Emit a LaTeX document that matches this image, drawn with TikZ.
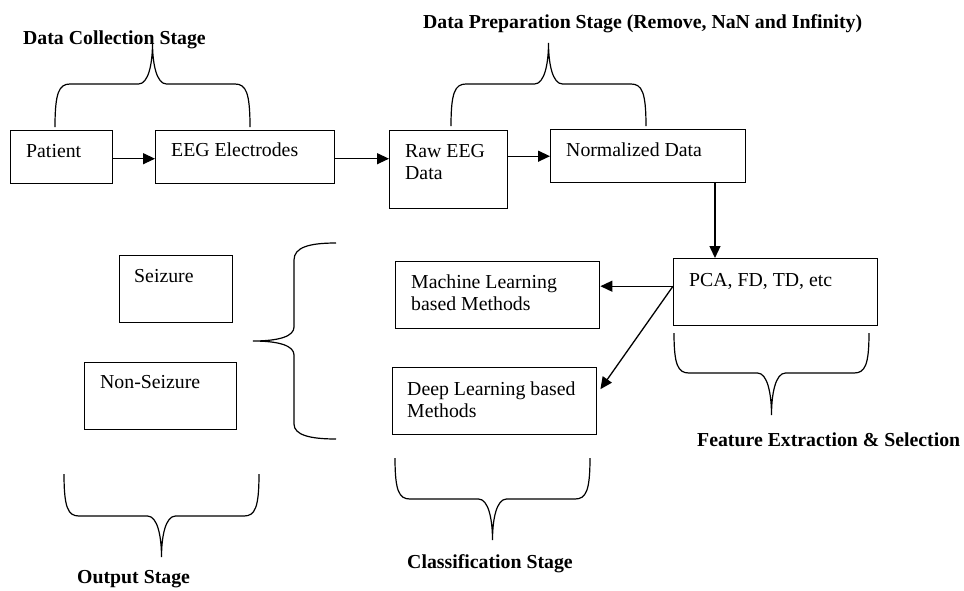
\documentclass[tikz,border=0pt]{standalone}
\usepackage{fontspec}
\setmainfont{Liberation Serif}
\usetikzlibrary{arrows.meta,calc}
\tikzset{
  box/.style={draw, line width=1.4pt, anchor=north west, inner sep=0pt},
  txt/.style={anchor=north west, inner sep=0pt, align=left, font=\fontsize{19.8}{22.5}\selectfont},
  ttl/.style={anchor=base west, inner sep=0pt, font=\fontsize{19.8}{22.5}\selectfont\bfseries},
  arr/.style={line width=1.3pt, -{Triangle[length=12pt,width=11pt]}},
  brc/.style={line width=1.2pt},
}
% horizontal brace: xa, xb, y of ends, y of flat part, y of tip
\newcommand\hbr[5]{%
  \draw[brc] (#1,#3) .. controls (#1,{#3+0.8*(#4-#3)}) and ({#1+4},#4) .. ({#1+15},#4)
    -- ({(#1+#2)/2-14},#4) .. controls ({(#1+#2)/2-4},#4) and ({(#1+#2)/2},{#4+0.5*(#5-#4)}) .. ({(#1+#2)/2},#5)
    .. controls ({(#1+#2)/2},{#4+0.5*(#5-#4)}) and ({(#1+#2)/2+4},#4) .. ({(#1+#2)/2+14},#4)
    -- ({#2-15},#4) .. controls ({#2-4},#4) and (#2,{#3+0.8*(#4-#3)}) .. (#2,#3);}
\begin{document}
\begin{tikzpicture}[x=1pt,y=-1pt]
\useasboundingbox (0,0) rectangle (964,590);
% boxes
\node[box, minimum width=102pt, minimum height=53pt] (patient) at (10,130) {};
\node[box, minimum width=179pt, minimum height=53pt] (eeg) at (155,130) {};
\node[box, minimum width=118pt, minimum height=78pt] (raw) at (389,130) {};
\node[box, minimum width=195pt, minimum height=53pt] (norm) at (550,129) {};
\node[box, minimum width=204pt, minimum height=67pt] (pca) at (673,258) {};
\node[box, minimum width=204pt, minimum height=67pt] (ml) at (395,261) {};
\node[box, minimum width=204pt, minimum height=67pt] (dl) at (392,367) {};
\node[box, minimum width=113pt, minimum height=67pt] (seiz) at (119,255) {};
\node[box, minimum width=152pt, minimum height=67pt] (nons) at (84,362) {};
% box texts
\node[txt] (patient-t) at ([shift={(16pt,-11.25pt)}]patient.north west) {\strut Patient};
\node[txt] (eeg-t) at ([shift={(16pt,-10.25pt)}]eeg.north west) {\strut EEG Electrodes};
\node[txt] (raw-t) at ([shift={(16pt,-11.25pt)}]raw.north west) {\strut Raw EEG\\Data};
\node[txt] (norm-t) at ([shift={(16pt,-11.25pt)}]norm.north west) {\strut Normalized Data};
\node[txt] (pca-t) at ([shift={(16pt,-12.25pt)}]pca.north west) {\strut PCA, FD, TD, etc};
\node[txt] (ml-t) at ([shift={(16pt,-11.25pt)}]ml.north west) {\strut Machine Learning\\based Methods};
\node[txt] (dl-t) at ([shift={(15pt,-12.25pt)}]dl.north west) {\strut Deep Learning based\\Methods};
\node[txt] (seiz-t) at ([shift={(15pt,-11.25pt)}]seiz.north west) {\strut Seizure};
\node[txt] (nons-t) at ([shift={(16pt,-10.25pt)}]nons.north west) {\strut Non-Seizure};
% arrows
\draw[arr] ([yshift=-1.5pt]patient.east) -- ([yshift=-1.5pt]eeg.west);
\draw[arr] ([yshift=-1.5pt]eeg.east) -- ([yshift=-1.5pt]eeg.east -| raw.west);
\draw[arr] (raw.east |- norm.west) -- (norm.west);
\coordinate (nd) at ($(norm.south west)!0.84!(norm.south east)$);
\draw[arr] (nd) -- (nd |- pca.north);
\coordinate (pcaout) at ([yshift=6pt]pca.west);
\draw[arr] (pcaout) -- (pcaout -| ml.east);
\draw[arr] (pcaout) -- ([shift={(3pt,12pt)}]dl.east);
% braces
\hbr{55}{250}{127}{84}{43}
\hbr{451}{646}{126}{84}{43}
\hbr{674}{869}{333}{373}{415}
\hbr{395}{590}{458}{499}{540}
\hbr{64}{259}{474}{516}{557}
\draw[brc] (336,243) .. controls (310,243) and (294,247) .. (294,260) -- (294,327)
  .. controls (294,336) and (280,341) .. (253,341)
  .. controls (280,341) and (294,346) .. (294,355) -- (294,424)
  .. controls (294,435) and (310,439) .. (336,439);
% stage titles
\node[ttl] (t-coll) at (23,44) {Data Collection Stage};
\node[ttl] (t-prep) at (423,28) {Data Preparation Stage (Remove, NaN and Infinity)};
\node[ttl] (t-feat) at (697,446) {Feature Extraction \& Selection};
\node[ttl] (t-class) at (407,568) {Classification Stage};
\node[ttl] (t-out) at (77,583) {Output Stage};
\end{tikzpicture}
\end{document}
